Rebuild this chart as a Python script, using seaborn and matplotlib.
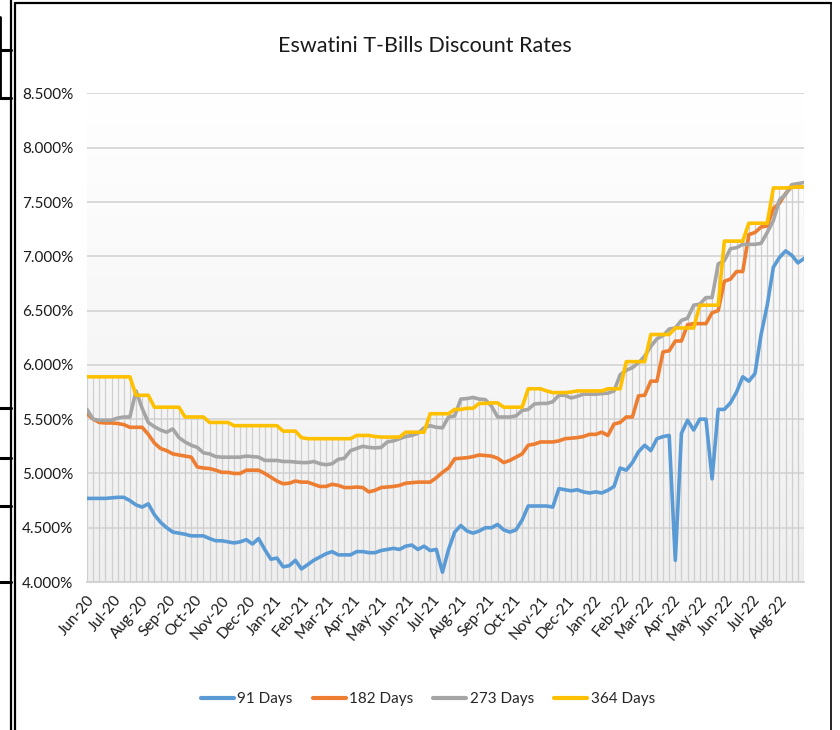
import numpy as np
import pandas as pd
import matplotlib
matplotlib.use("Agg")
import matplotlib.pyplot as plt
import matplotlib.dates as mdates
from matplotlib import font_manager
from matplotlib.colors import LinearSegmentedColormap
from matplotlib.lines import Line2D
from matplotlib.ticker import FuncFormatter
import seaborn as sns

# weekly auction dates
dates = pd.date_range("2020-06-01", periods=118, freq="7D")

rate_91 = [4.77, 4.77, 4.77, 4.77, 4.775, 4.78, 4.78, 4.75, 4.71, 4.69,
           4.72, 4.62, 4.55, 4.50, 4.46, 4.45, 4.44, 4.425, 4.425, 4.425,
           4.40, 4.38, 4.38, 4.37, 4.36, 4.37, 4.39, 4.35, 4.40, 4.30,
           4.21, 4.22, 4.14, 4.15, 4.20, 4.12, 4.16, 4.20, 4.23, 4.26,
           4.28, 4.25, 4.25, 4.25, 4.28, 4.28, 4.27, 4.27, 4.29, 4.30,
           4.31, 4.30, 4.33, 4.34, 4.30, 4.33, 4.29, 4.30, 4.09, 4.30,
           4.46, 4.52, 4.47, 4.45, 4.47, 4.50, 4.50, 4.53, 4.48, 4.46,
           4.48, 4.57, 4.70, 4.70, 4.70, 4.70, 4.69, 4.86, 4.85, 4.84,
           4.85, 4.83, 4.82, 4.83, 4.82, 4.845, 4.88, 5.05, 5.03, 5.10,
           5.20, 5.26, 5.21, 5.32, 5.34, 5.35, 4.20, 5.37, 5.49, 5.40,
           5.50, 5.50, 4.95, 5.59, 5.59, 5.65, 5.75, 5.89, 5.85, 5.92,
           6.28, 6.55, 6.90, 6.99, 7.05, 7.01, 6.94, 6.98]

rate_182 = [5.55, 5.50, 5.47, 5.465, 5.465, 5.46, 5.45, 5.425, 5.425, 5.425,
            5.36, 5.28, 5.23, 5.21, 5.18, 5.17, 5.16, 5.15, 5.06, 5.05,
            5.045, 5.03, 5.01, 5.01, 5.00, 5.00, 5.03, 5.03, 5.03, 5.00,
            4.965, 4.93, 4.905, 4.91, 4.93, 4.92, 4.92, 4.90, 4.88, 4.88,
            4.90, 4.89, 4.87, 4.87, 4.875, 4.87, 4.83, 4.845, 4.87, 4.875,
            4.88, 4.89, 4.91, 4.915, 4.92, 4.92, 4.92, 4.96, 5.01, 5.05,
            5.135, 5.14, 5.145, 5.155, 5.17, 5.165, 5.16, 5.14, 5.10, 5.12,
            5.15, 5.18, 5.26, 5.27, 5.29, 5.29, 5.29, 5.30, 5.32, 5.325,
            5.33, 5.34, 5.36, 5.36, 5.38, 5.35, 5.455, 5.47, 5.52, 5.52,
            5.715, 5.72, 5.85, 5.85, 6.12, 6.13, 6.22, 6.22, 6.37, 6.38,
            6.38, 6.38, 6.48, 6.50, 6.77, 6.79, 6.86, 6.86, 7.20, 7.22,
            7.27, 7.28, 7.44, 7.49, 7.58, 7.64, 7.64, 7.64]

rate_273 = [5.59, 5.50, 5.49, 5.49, 5.49, 5.51, 5.52, 5.52, 5.76, 5.60,
            5.47, 5.43, 5.40, 5.38, 5.41, 5.33, 5.29, 5.26, 5.24, 5.19,
            5.18, 5.155, 5.15, 5.15, 5.15, 5.15, 5.16, 5.155, 5.15, 5.12,
            5.12, 5.12, 5.11, 5.11, 5.105, 5.10, 5.10, 5.11, 5.09, 5.08,
            5.09, 5.13, 5.14, 5.21, 5.23, 5.25, 5.24, 5.235, 5.24, 5.29,
            5.30, 5.32, 5.34, 5.35, 5.37, 5.42, 5.44, 5.425, 5.42, 5.52,
            5.53, 5.685, 5.69, 5.70, 5.685, 5.68, 5.62, 5.52, 5.52, 5.52,
            5.53, 5.58, 5.59, 5.64, 5.645, 5.645, 5.66, 5.72, 5.72, 5.695,
            5.71, 5.73, 5.73, 5.73, 5.735, 5.74, 5.76, 5.91, 5.95, 5.975,
            6.02, 6.08, 6.17, 6.24, 6.27, 6.33, 6.34, 6.41, 6.43, 6.55,
            6.56, 6.62, 6.62, 6.93, 6.96, 7.07, 7.08, 7.11, 7.11, 7.11,
            7.12, 7.22, 7.33, 7.52, 7.57, 7.66, 7.67, 7.68]

rate_364 = [5.89, 5.89, 5.89, 5.89, 5.89, 5.89, 5.89, 5.89, 5.72, 5.72,
            5.72, 5.61, 5.61, 5.61, 5.61, 5.61, 5.52, 5.52, 5.52, 5.52,
            5.47, 5.47, 5.47, 5.47, 5.44, 5.44, 5.44, 5.44, 5.44, 5.44,
            5.44, 5.44, 5.39, 5.39, 5.39, 5.33, 5.32, 5.32, 5.32, 5.32,
            5.32, 5.32, 5.32, 5.32, 5.35, 5.35, 5.35, 5.34, 5.335, 5.335,
            5.335, 5.335, 5.38, 5.38, 5.38, 5.38, 5.55, 5.55, 5.55, 5.55,
            5.59, 5.59, 5.60, 5.60, 5.645, 5.645, 5.65, 5.65, 5.61, 5.61,
            5.61, 5.61, 5.78, 5.78, 5.78, 5.76, 5.745, 5.745, 5.745, 5.75,
            5.76, 5.76, 5.76, 5.76, 5.76, 5.78, 5.78, 5.78, 6.03, 6.03,
            6.03, 6.03, 6.28, 6.28, 6.28, 6.28, 6.34, 6.34, 6.34, 6.34,
            6.55, 6.55, 6.55, 6.55, 7.14, 7.14, 7.14, 7.14, 7.305, 7.305,
            7.305, 7.305, 7.63, 7.63, 7.63, 7.635, 7.64, 7.64]

series_names = ["91 Days", "182 Days", "273 Days", "364 Days"]
colors = ["#5B9BD5", "#ED7D31", "#A5A5A5", "#FFC000"]

df = pd.DataFrame({"Date": dates, "91 Days": rate_91, "182 Days": rate_182,
                   "273 Days": rate_273, "364 Days": rate_364})
long_df = df.melt(id_vars="Date", var_name="Tenor", value_name="Rate")

sns.set_theme(style="white")
installed = {f.name for f in font_manager.fontManager.ttflist}
main_font = "Liberation Sans Narrow" if "Liberation Sans Narrow" in installed else "Lato"
plt.rcParams["font.family"] = [main_font, "DejaVu Sans"]

fig = plt.figure(figsize=(8.4, 7.3), dpi=100)
ax = fig.add_axes([87 / 840, 1 - 582 / 730, (804 - 87) / 840, (582 - 93.5) / 730])

# light gradient in the plot area
grad = LinearSegmentedColormap.from_list("g", ["#efefef", "#ffffff"])
ax.imshow(np.linspace(0, 1, 256).reshape(-1, 1), extent=[0, 1, 0, 1],
          transform=ax.transAxes, aspect="auto", cmap=grad, origin="lower", zorder=0)

# drop lines from the highest point of each week down to the axis
top_vals = df[series_names].max(axis=1)
ax.vlines(df["Date"], 4.0, top_vals, color="#cfcfcf", linewidth=0.9, zorder=1)

sns.lineplot(data=long_df, x="Date", y="Rate", hue="Tenor", hue_order=series_names,
             palette=colors, linewidth=2.6, ax=ax, legend=False, zorder=3)

ax.set_xlim(dates[0], dates[-1])
ax.set_ylim(4.0, 8.5)
ax.set_yticks(np.arange(4.0, 8.51, 0.5))
ax.yaxis.set_major_formatter(FuncFormatter(lambda v, p: f"{v:.3f}%"))

ax.xaxis.set_major_locator(mdates.MonthLocator())
ax.xaxis.set_major_formatter(mdates.DateFormatter("%b-%y"))

ax.grid(axis="y", which="major", color="#d6d6d6", linewidth=1.3, zorder=1)
ax.grid(axis="x", visible=False)
ax.set_axisbelow(True)

for s in ["left", "right", "top"]:
    ax.spines[s].set_visible(False)
ax.spines["bottom"].set_color("#d0d0d0")
ax.spines["bottom"].set_linewidth(1.3)

ax.tick_params(axis="y", length=0, labelsize=11, labelcolor="#1a1a1a", pad=10)
ax.tick_params(axis="x", which="major", length=6, width=1.2, color="#d0d0d0",
               labelsize=11, labelcolor="#1a1a1a", pad=2)
for lbl in ax.get_xticklabels():
    lbl.set_rotation(50)
    lbl.set_ha("right")
    lbl.set_rotation_mode("anchor")

ax.set_xlabel("")
ax.set_ylabel("")

fig.text(425 / 840, 1 - 46 / 730, "Eswatini T-Bills Discount Rates",
         ha="center", va="center", fontsize=15.5, color="#1a1a1a")

handles = [Line2D([], [], color=c, linewidth=3) for c in colors]
fig.legend(handles, series_names, loc="center", bbox_to_anchor=(428 / 840, 1 - 699 / 730),
           ncol=4, frameon=False, fontsize=11, handlelength=2.15, columnspacing=1.3,
           handletextpad=0.25)

# screenshot frame and sheet cell borders
def fline(xs, ys, lw):
    fig.add_artist(Line2D([x / 840 for x in xs], [1 - y / 730 for y in ys],
                          color="black", linewidth=lw, transform=fig.transFigure))

fline([11, 11], [0, 730], 1.6)
fline([15, 15], [3, 730], 1.6)
fline([15, 831], [3, 3], 1.6)
fline([831, 831], [3, 730], 1.2)
for yy in [50, 98, 408, 458, 506, 582]:
    fline([0, 11], [yy, yy], 2.2)
fline([0, 0], [17, 98], 2.0)

fig.savefig("out.png", dpi=100, facecolor="white")
